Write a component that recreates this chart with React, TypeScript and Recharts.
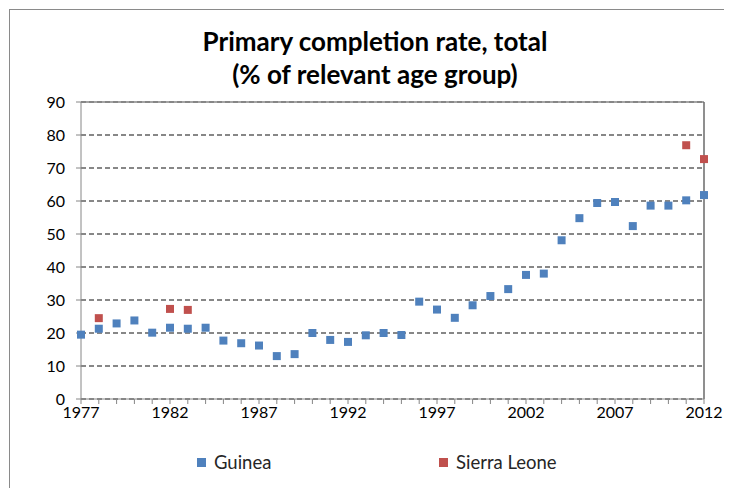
import React from 'react';
import { ScatterChart, Scatter, XAxis, YAxis, ZAxis, CartesianGrid, ReferenceLine } from 'recharts';

const guineaYears = [1977, 1978, 1979, 1980, 1981, 1982, 1983, 1984, 1985, 1986, 1987, 1988, 1989, 1990, 1991, 1992, 1993, 1994, 1995, 1996, 1997, 1998, 1999, 2000, 2001, 2002, 2003, 2004, 2005, 2006, 2007, 2008, 2009, 2010, 2011, 2012];
const guineaValues = [19.5, 21.3, 22.9, 23.8, 20.1, 21.6, 21.3, 21.6, 17.7, 16.9, 16.2, 13.0, 13.6, 20.0, 17.9, 17.3, 19.3, 20.0, 19.4, 29.5, 27.1, 24.6, 28.4, 31.2, 33.3, 37.6, 38.0, 48.1, 54.8, 59.4, 59.7, 52.4, 58.6, 58.6, 60.2, 61.8];
const sierraYears = [1978, 1982, 1983, 2011, 2012];
const sierraValues = [24.5, 27.3, 27.0, 76.9, 72.7];
const labeledYears = [1977, 1982, 1987, 1992, 1997, 2002, 2007, 2012];
const yTicks = [0, 10, 20, 30, 40, 50, 60, 70, 80, 90];

const guineaData = guineaYears.map((year, i) => ({ year, value: guineaValues[i] }));
const sierraData = sierraYears.map((year, i) => ({ year, value: sierraValues[i] }));

const FONT = 'Lato, "Open Sans", sans-serif';
const AXIS = '#868686';
const BLUE = '#4F81BD';
const RED = '#C0504D';

export default function App() {
  return (
    <div style={{ position: 'relative', width: 732, height: 496, margin: -8, overflow: 'hidden', background: '#fff', fontFamily: FONT }}>
      <div style={{ position: 'absolute', left: 9, top: 9, width: 800, height: 600, border: '1px solid #8a8a8a' }} />
      <div style={{ position: 'absolute', left: 0, top: 25, width: 750, textAlign: 'center', fontWeight: 700, fontSize: 26, lineHeight: '33px', color: '#000' }}>
        Primary completion rate, total<br />(% of relevant age group)
      </div>
      <div style={{ position: 'absolute', left: 0, top: 0 }}>
        <ScatterChart width={732} height={496} margin={{ top: 102, right: 28, bottom: 67, left: 9 }}>
          <CartesianGrid horizontal vertical={false} stroke="#111" strokeWidth={1.2} strokeDasharray="5 3" />
          <XAxis
            type="number"
            dataKey="year"
            domain={[1977, 2012]}
            ticks={guineaYears}
            interval={0}
            tickFormatter={(v: number) => (labeledYears.includes(v) ? String(v) : '')}
            stroke={AXIS}
            tickSize={5}
            tickMargin={3}
            height={30}
            tick={{ fill: '#000', fontSize: 16, fontFamily: FONT }}
          />
          <YAxis
            type="number"
            dataKey="value"
            domain={[0, 90]}
            ticks={yTicks}
            interval={0}
            stroke={AXIS}
            tickSize={5}
            tickMargin={11}
            width={72}
            tick={{ fill: '#000', fontSize: 16, fontFamily: FONT }}
          />
          <ZAxis range={[121, 121]} />
          <ReferenceLine y={90} stroke={AXIS} strokeWidth={1.5} />
          <ReferenceLine x={2012} stroke="#6a6a6a" strokeWidth={1.5} />
          <Scatter name="Guinea" data={guineaData} fill={BLUE} shape="square" isAnimationActive={false} />
          <Scatter name="Sierra Leone" data={sierraData} fill={RED} shape="square" isAnimationActive={false} />
        </ScatterChart>
      </div>
      <div style={{ position: 'absolute', left: 197, top: 451, fontSize: 18.5, color: '#262626', display: 'flex', alignItems: 'center' }}>
        <span style={{ display: 'inline-block', width: 9, height: 9, background: BLUE, marginRight: 8 }} />
        Guinea
      </div>
      <div style={{ position: 'absolute', left: 439, top: 451, fontSize: 18.5, color: '#262626', display: 'flex', alignItems: 'center' }}>
        <span style={{ display: 'inline-block', width: 9, height: 9, background: RED, marginRight: 8 }} />
        Sierra Leone
      </div>
    </div>
  );
}
